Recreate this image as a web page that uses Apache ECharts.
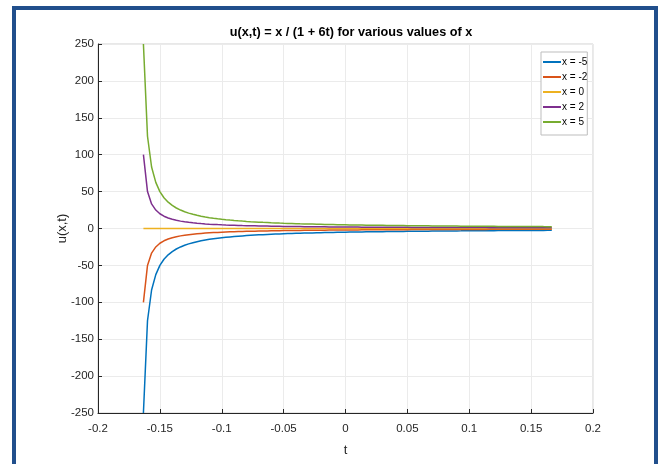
<!DOCTYPE html>
<html>
<head>
<meta charset="utf-8">
<script src="https://cdn.jsdelivr.net/npm/echarts@6/dist/echarts.min.js"></script>
<style>html,body{margin:0;padding:0;background:#fff}#c{width:662px;height:464px}</style>
</head>
<body>
<div id="c"></div>
<script>
const titleText = 'u(x,t) = x / (1 + 6t) for various values of x';
const seriesNames = ['x = -5', 'x = -2', 'x = 0', 'x = 2', 'x = 5'];
const xTicks = [-0.2, -0.15, -0.1, -0.05, 0, 0.05, 0.1, 0.15, 0.2];
const yTicks = [-250, -200, -150, -100, -50, 0, 50, 100, 150, 200, 250];

const tValues = [-0.1633,-0.1600,-0.1567,-0.1533,-0.1500,-0.1467,-0.1433,-0.1400,-0.1367,-0.1333,
-0.1300,-0.1267,-0.1233,-0.1200,-0.1167,-0.1133,-0.1100,-0.1067,-0.1033,-0.1000,
-0.0967,-0.0933,-0.0900,-0.0867,-0.0833,-0.0800,-0.0767,-0.0733,-0.0700,-0.0667,
-0.0633,-0.0600,-0.0567,-0.0533,-0.0500,-0.0467,-0.0433,-0.0400,-0.0367,-0.0333,
-0.0300,-0.0267,-0.0233,-0.0200,-0.0167,-0.0133,-0.0100,-0.0067,-0.0033,0,
0.0033,0.0067,0.0100,0.0133,0.0167,0.0200,0.0233,0.0267,0.0300,0.0333,
0.0367,0.0400,0.0433,0.0467,0.0500,0.0533,0.0567,0.0600,0.0633,0.0667,
0.0700,0.0733,0.0767,0.0800,0.0833,0.0867,0.0900,0.0933,0.0967,0.1000,
0.1033,0.1067,0.1100,0.1133,0.1167,0.1200,0.1233,0.1267,0.1300,0.1333,
0.1367,0.1400,0.1433,0.1467,0.1500,0.1533,0.1567,0.1600,0.1633,0.1667];

const uMinus5 = [-250,-125,-83.33,-62.5,-50,-41.67,-35.71,-31.25,-27.78,-25,
-22.73,-20.83,-19.23,-17.86,-16.67,-15.63,-14.71,-13.89,-13.16,-12.5,
-11.90,-11.36,-10.87,-10.42,-10,-9.62,-9.26,-8.93,-8.62,-8.33,
-8.06,-7.81,-7.58,-7.35,-7.14,-6.94,-6.76,-6.58,-6.41,-6.25,
-6.10,-5.95,-5.81,-5.68,-5.56,-5.43,-5.32,-5.21,-5.10,-5,
-4.90,-4.81,-4.72,-4.63,-4.55,-4.46,-4.39,-4.31,-4.24,-4.17,
-4.10,-4.03,-3.97,-3.91,-3.85,-3.79,-3.73,-3.68,-3.62,-3.57,
-3.52,-3.47,-3.42,-3.38,-3.33,-3.29,-3.25,-3.21,-3.16,-3.13,
-3.09,-3.05,-3.01,-2.98,-2.94,-2.91,-2.87,-2.84,-2.81,-2.78,
-2.75,-2.72,-2.69,-2.66,-2.63,-2.60,-2.58,-2.55,-2.53,-2.5];

const uMinus2 = [-100,-50,-33.33,-25,-20,-16.67,-14.29,-12.5,-11.11,-10,
-9.09,-8.33,-7.69,-7.14,-6.67,-6.25,-5.88,-5.56,-5.26,-5,
-4.76,-4.55,-4.35,-4.17,-4,-3.85,-3.70,-3.57,-3.45,-3.33,
-3.23,-3.13,-3.03,-2.94,-2.86,-2.78,-2.70,-2.63,-2.56,-2.5,
-2.44,-2.38,-2.33,-2.27,-2.22,-2.17,-2.13,-2.08,-2.04,-2,
-1.96,-1.92,-1.89,-1.85,-1.82,-1.79,-1.75,-1.72,-1.69,-1.67,
-1.64,-1.61,-1.59,-1.56,-1.54,-1.52,-1.49,-1.47,-1.45,-1.43,
-1.41,-1.39,-1.37,-1.35,-1.33,-1.32,-1.30,-1.28,-1.27,-1.25,
-1.23,-1.22,-1.20,-1.19,-1.18,-1.16,-1.15,-1.14,-1.12,-1.11,
-1.10,-1.09,-1.08,-1.06,-1.05,-1.04,-1.03,-1.02,-1.01,-1];

const uZero = [0,0,0,0,0,0,0,0,0,0, 0,0,0,0,0,0,0,0,0,0,
0,0,0,0,0,0,0,0,0,0, 0,0,0,0,0,0,0,0,0,0,
0,0,0,0,0,0,0,0,0,0, 0,0,0,0,0,0,0,0,0,0,
0,0,0,0,0,0,0,0,0,0, 0,0,0,0,0,0,0,0,0,0,
0,0,0,0,0,0,0,0,0,0, 0,0,0,0,0,0,0,0,0,0];

const uPlus2 = [100,50,33.33,25,20,16.67,14.29,12.5,11.11,10,
9.09,8.33,7.69,7.14,6.67,6.25,5.88,5.56,5.26,5,
4.76,4.55,4.35,4.17,4,3.85,3.70,3.57,3.45,3.33,
3.23,3.13,3.03,2.94,2.86,2.78,2.70,2.63,2.56,2.5,
2.44,2.38,2.33,2.27,2.22,2.17,2.13,2.08,2.04,2,
1.96,1.92,1.89,1.85,1.82,1.79,1.75,1.72,1.69,1.67,
1.64,1.61,1.59,1.56,1.54,1.52,1.49,1.47,1.45,1.43,
1.41,1.39,1.37,1.35,1.33,1.32,1.30,1.28,1.27,1.25,
1.23,1.22,1.20,1.19,1.18,1.16,1.15,1.14,1.12,1.11,
1.10,1.09,1.08,1.06,1.05,1.04,1.03,1.02,1.01,1];

const uPlus5 = [250,125,83.33,62.5,50,41.67,35.71,31.25,27.78,25,
22.73,20.83,19.23,17.86,16.67,15.63,14.71,13.89,13.16,12.5,
11.90,11.36,10.87,10.42,10,9.62,9.26,8.93,8.62,8.33,
8.06,7.81,7.58,7.35,7.14,6.94,6.76,6.58,6.41,6.25,
6.10,5.95,5.81,5.68,5.56,5.43,5.32,5.21,5.10,5,
4.90,4.81,4.72,4.63,4.55,4.46,4.39,4.31,4.24,4.17,
4.10,4.03,3.97,3.91,3.85,3.79,3.73,3.68,3.62,3.57,
3.52,3.47,3.42,3.38,3.33,3.29,3.25,3.21,3.16,3.13,
3.09,3.05,3.01,2.98,2.94,2.91,2.87,2.84,2.81,2.78,
2.75,2.72,2.69,2.66,2.63,2.60,2.58,2.55,2.53,2.5];

const colors = ['#0072BD', '#D95319', '#EDB120', '#7E2F8E', '#77AC30'];
const allU = [uMinus5, uMinus2, uZero, uPlus2, uPlus5];

const FONT = '"Liberation Sans", Arial, sans-serif';
const chart = echarts.init(document.getElementById('c'), null, {renderer: 'canvas'});

const series = allU.map((arr, i) => ({
  name: seriesNames[i],
  type: 'line',
  showSymbol: false,
  symbol: 'none',
  animation: false,
  lineStyle: {width: 1.5, color: colors[i]},
  itemStyle: {color: colors[i]},
  data: tValues.map((t, j) => [t, arr[j]])
}));

chart.setOption({
  animation: false,
  backgroundColor: '#fff',
  title: {
    text: titleText, left: 346, top: 21, textAlign: 'center',
    textStyle: {fontFamily: FONT, fontSize: 12.7, fontWeight: 'bold', color: '#000'}
  },
  legend: {
    orient: 'vertical', left: 541, top: 52,
    padding: [5, 0, 8, 2], itemGap: 5,
    itemWidth: 18, itemHeight: 2, icon: 'rect',
    backgroundColor: '#fff', borderColor: '#bdbdbd', borderWidth: 1, borderRadius: 0,
    textStyle: {fontFamily: FONT, fontSize: 10, color: '#000', padding: [0, 0, 0, -4]},
    data: seriesNames
  },
  grid: {left: 98, right: 69, top: 44, bottom: 51, show: true, borderColor: '#d0d0d0', borderWidth: 1, backgroundColor: 'transparent'},
  xAxis: {
    type: 'value', min: -0.2, max: 0.2, interval: 0.05,
    name: 't', nameLocation: 'middle', nameGap: 31, nameMoveOverlap: false,
    nameTextStyle: {fontFamily: FONT, fontSize: 13, color: '#262626'},
    axisLine: {show: true, onZero: false, lineStyle: {color: '#262626', width: 1}},
    axisTick: {show: true, inside: true, length: 4, lineStyle: {color: '#262626'}},
    axisLabel: {fontFamily: FONT, fontSize: 11.5, color: '#262626', margin: 10,
      formatter: v => { const r = Math.round(v * 100) / 100; return String(r); }},
    splitLine: {show: true, lineStyle: {color: '#ebebeb', width: 1}}
  },
  yAxis: {
    type: 'value', min: -250, max: 250, interval: 50,
    name: 'u(x,t)', nameLocation: 'middle', nameGap: 29, nameRotate: 90, nameMoveOverlap: false,
    nameTextStyle: {fontFamily: FONT, fontSize: 13, color: '#262626'},
    axisLine: {show: true, onZero: false, lineStyle: {color: '#262626', width: 1}},
    axisTick: {show: true, inside: true, length: 4, lineStyle: {color: '#262626'}},
    axisLabel: {fontFamily: FONT, fontSize: 11.5, color: '#262626', margin: 4},
    splitLine: {show: true, lineStyle: {color: '#ebebeb', width: 1}}
  },
  graphic: [{
    type: 'rect', z: 100, silent: true,
    shape: {x: 14, y: 8, width: 642, height: 470},
    style: {fill: 'none', stroke: '#214f8c', lineWidth: 4}
  }],
  series: series
});
</script>
</body>
</html>
